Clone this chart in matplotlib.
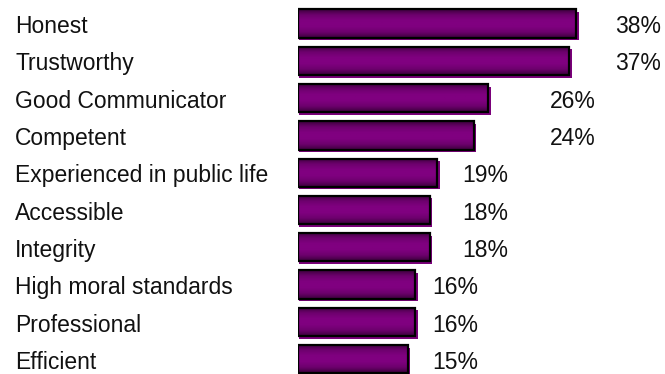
import numpy as np
import matplotlib.pyplot as plt
from matplotlib.colors import LinearSegmentedColormap
from matplotlib.patches import Rectangle
from matplotlib.transforms import blended_transform_factory

categories = ['Honest', 'Trustworthy', 'Good Communicator', 'Competent',
              'Experienced in public life', 'Accessible', 'Integrity',
              'High moral standards', 'Professional', 'Efficient']
values = [38, 37, 26, 24, 19, 18, 18, 16, 16, 15]
value_labels = ['38%', '37%', '26%', '24%', '19%', '18%', '18%', '16%', '16%', '15%']

# where the percentage text sits, as a gap after the bar end (in % units)
label_gap = [5.3, 6.3, 8.4, 10.4, 3.4, 4.4, 4.4, 2.3, 2.3, 3.3]

plt.rcParams['font.family'] = ['Liberation Sans', 'DejaVu Sans']

fig = plt.figure(figsize=(6.65, 3.74), dpi=100)
ax = fig.add_axes([0.448, 0.0, 0.552, 1.0])
ax.axis('off')

# purple shading, dark on the top and bottom edges
grad = LinearSegmentedColormap.from_list(
    'purp', ['#3c003c', '#6e006e', '#800080', '#800080', '#6e006e', '#3c003c'])
shade = np.linspace(0, 1, 64).reshape(-1, 1)

h = 0.76
dx, dy = 0.35, 0.07
base = 0.26   # text baseline below the bar centre
lab_tr = blended_transform_factory(fig.transFigure, ax.transData)

for i, (cat, v, lab, gap) in enumerate(zip(categories, values, value_labels, label_gap)):
    # drop shadow
    ax.add_patch(Rectangle((dx * 0.3, i - h / 2 + dy), v + dx * 0.7, h,
                           facecolor='#7a007a', edgecolor='none', zorder=1))
    ax.imshow(shade, cmap=grad, aspect='auto', interpolation='bilinear',
              extent=(0, v, i + h / 2, i - h / 2), zorder=2)
    ax.add_patch(Rectangle((0, i - h / 2), v, h, facecolor='none',
                           edgecolor='black', linewidth=1.6, zorder=3))
    ax.text(v + gap, i + base, lab, fontsize=16.5, va='baseline', ha='left',
            color='#111111')
    ax.text(0.0226, i + base, cat, fontsize=16.5, va='baseline', ha='left',
            color='#111111', transform=lab_tr)

ax.set_xlim(0, 50.1)
ax.set_ylim(9.397, -0.63)

fig.savefig('out.png', dpi=100)
